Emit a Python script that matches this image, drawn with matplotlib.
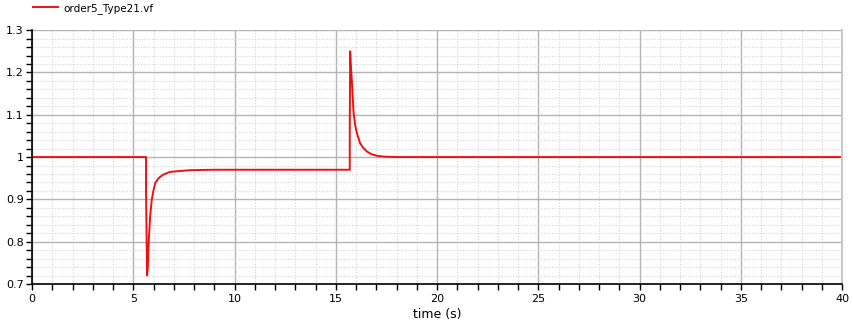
import matplotlib
matplotlib.use("Agg")
import matplotlib.pyplot as plt
from matplotlib.ticker import MultipleLocator

# signal (time in s, value)
t = [0.0, 5.63, 5.63, 5.66, 5.68, 5.72, 5.75, 5.83, 5.91, 6.0, 6.08, 6.2, 6.32, 6.5,
     6.82, 7.3, 7.8, 9.0, 12.0, 15.69, 15.69, 15.71, 15.74, 15.79, 15.88, 15.96,
     16.04, 16.2, 16.35, 16.54, 16.75, 17.03, 17.4, 18.0, 25.0, 40.0]
vf = [1.0, 1.0, 0.915, 0.80, 0.72, 0.74, 0.787, 0.858, 0.898, 0.922, 0.938, 0.947, 0.953, 0.959,
      0.965, 0.967, 0.969, 0.970, 0.970, 0.970, 1.063, 1.25, 1.22, 1.182, 1.104, 1.075,
      1.057, 1.033, 1.022, 1.013, 1.007, 1.003, 1.001, 1.0, 1.0, 1.0]

fig = plt.figure(figsize=(8.54, 3.24), dpi=100)
ax = fig.add_axes([0.0375, 0.1235, 0.9485, 0.7835])

ax.plot(t, vf, color="#f01010", lw=1.4, label="order5_Type21.vf")

ax.set_xlim(0, 40)
ax.set_ylim(0.7, 1.3)
ax.xaxis.set_major_locator(MultipleLocator(5))
ax.xaxis.set_minor_locator(MultipleLocator(1))
ax.yaxis.set_major_locator(MultipleLocator(0.1))
ax.yaxis.set_minor_locator(MultipleLocator(0.02))
ax.yaxis.set_major_formatter(plt.FuncFormatter(lambda v, p: f"{v:g}"))

ax.grid(which="major", color="#b4b4b4", lw=1.0)
ax.grid(which="minor", color="#d4d4d4", lw=0.8, ls=(0, (1, 1.5)))
ax.set_axisbelow(True)

ax.spines["top"].set_visible(False)
ax.spines["right"].set_color("#c8c8c8")
ax.spines["right"].set_linewidth(1.5)
ax.spines["left"].set_linewidth(1.2)
ax.spines["bottom"].set_linewidth(1.2)

ax.tick_params(axis="both", which="both", direction="out", length=4, width=1, labelsize=8)
ax.tick_params(axis="x", pad=3)
ax.tick_params(axis="y", pad=2)

ax.set_xlabel("time (s)", fontsize=9, labelpad=3)

fig.legend(loc="upper left", bbox_to_anchor=(0.028, 1.02), frameon=False, fontsize=7.5,
           handlelength=2.4, handletextpad=0.5)

fig.savefig("out.png", dpi=100)
